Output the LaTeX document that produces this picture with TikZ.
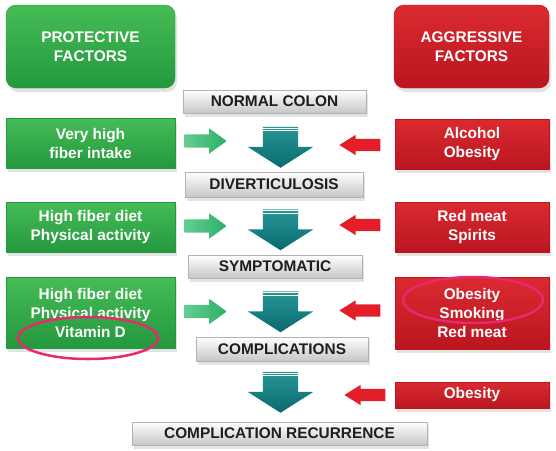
\documentclass[tikz,border=0pt]{standalone}
\usepackage{fontspec}
\setmainfont{Liberation Sans}
\usepackage{tikz}
\usetikzlibrary{shapes.arrows,shapes.geometric,shadows}

\definecolor{grntop}{RGB}{70,188,86}
\definecolor{grnbot}{RGB}{36,152,62}
\definecolor{redtop}{RGB}{218,42,48}
\definecolor{redbot}{RGB}{186,22,32}
\definecolor{tealtop}{RGB}{40,150,150}
\definecolor{tealbot}{RGB}{10,105,110}
\definecolor{mintl}{RGB}{100,205,145}
\definecolor{mintr}{RGB}{45,175,105}
\definecolor{redarrow}{RGB}{226,30,40}
\definecolor{ringpink}{RGB}{232,40,112}
\definecolor{bartext}{RGB}{30,30,30}

\begin{document}
\begin{tikzpicture}[x=1pt, y=-1pt,
  every node/.style={font=\bfseries\fontsize{15.4}{19}\selectfont, align=center, inner sep=0pt},
  softshadow/.style={drop shadow={shadow xshift=2pt, shadow yshift=-4pt, opacity=0.22}},
  greenbox/.style={top color=grntop, bottom color=grnbot, draw=grnbot, text=white, minimum width=169pt, softshadow},
  redbox/.style={top color=redtop, bottom color=redbot, draw=redbot, text=white, minimum width=154pt, softshadow},
  headbox/.style={rounded corners=10pt, minimum height=83pt},
  stagebar/.style={top color=white, bottom color=black!22, draw=black!30, text=bartext, minimum height=23pt, softshadow},
  goodarrow/.style={single arrow, anchor=tip, left color=mintl, right color=mintr, inner xsep=0pt, inner ysep=6.5pt, minimum height=42pt, single arrow head extend=6pt, single arrow tip angle=72},
  badarrow/.style={single arrow, anchor=tip, fill=redarrow, shape border rotate=180, inner xsep=0pt, inner ysep=6pt, minimum height=41pt, single arrow head extend=4pt, single arrow tip angle=64},
  flowarrow/.style={single arrow, anchor=tip, top color=tealtop, bottom color=tealbot, shape border rotate=270, inner xsep=17.5pt, inner ysep=0pt, minimum height=41pt, single arrow head extend=15pt, single arrow tip angle=115},
  ring/.style={ellipse, draw=ringpink, line width=2.5pt}
]
\useasboundingbox (0,0) rectangle (556,450);

% headings
\path (90.5,46.5) node[greenbox, headbox] (prot) {PROTECTIVE\\FACTORS};
\path (471.5,46.5) node[redbox, headbox, minimum width=155pt] (aggr) {AGGRESSIVE\\FACTORS};

% stages of the disease
\path (274.5,101.5) node[stagebar, minimum width=183pt] (normal) {NORMAL COLON};
\path (274,184.5) node[stagebar, minimum width=178pt, minimum height=25pt] (divert) {DIVERTICULOSIS};
\path (275,266.5) node[stagebar, minimum width=174pt] (sympt) {SYMPTOMATIC};
\path (282,349) node[stagebar, minimum width=172pt, minimum height=24pt] (compl) {COMPLICATIONS};
\path (279.5,433.5) node[stagebar, minimum width=295pt] (recur) {COMPLICATION RECURRENCE};

% protective factors
\path (90.5,143) node[greenbox, minimum height=50pt] (g1) {Very high\\fiber intake};
\path (90.5,227) node[greenbox, minimum height=50pt] (g2) {High fiber diet\\Physical activity};
\path (90.5,312.5) node[greenbox, minimum height=71pt] (g3) {High fiber diet\\Physical activity\\Vitamin D};

% aggressive factors
\path (472,144) node[redbox, minimum height=50pt] (r1) {Alcohol\\Obesity};
\path (472,227) node[redbox, minimum height=50pt] (r2) {Red meat\\Spirits};
\path (472,313) node[redbox, minimum height=72pt] (r3) {Obesity\\Smoking\\Red meat};
\path (472,395) node[redbox, minimum height=26pt] (r4) {Obesity};

% arrows
\path (227,141) node[goodarrow] (ga1) {};
\path (227,226) node[goodarrow] (ga2) {};
\path (227,311.5) node[goodarrow] (ga3) {};

\path (280.5,168) node[flowarrow] (ta1) {};
\path (280.5,250.5) node[flowarrow] (ta2) {};
\path (280.5,332.5) node[flowarrow] (ta3) {};
\path (280.5,413) node[flowarrow] (ta4) {};
\foreach \t in {ta1,ta2,ta3,ta4}{
  \draw[white, line width=1.2pt] ([yshift=-1.8pt]\t.before tail) -- ([yshift=-1.8pt]\t.after tail);
  \draw[white, line width=1.2pt] ([yshift=-4.2pt]\t.before tail) -- ([yshift=-4.2pt]\t.after tail);
}

\path (339,145) node[badarrow] (ra1) {};
\path (339,225) node[badarrow] (ra2) {};
\path (339,310.5) node[badarrow] (ra3) {};
\path (344,395) node[badarrow] (ra4) {};

% highlighted factors
\path (88,338) node[ring, minimum width=140pt, minimum height=42pt] (vitd) {};
\path (473,300) node[ring, minimum width=140pt, minimum height=46pt] (smok) {};
\end{tikzpicture}
\end{document}
